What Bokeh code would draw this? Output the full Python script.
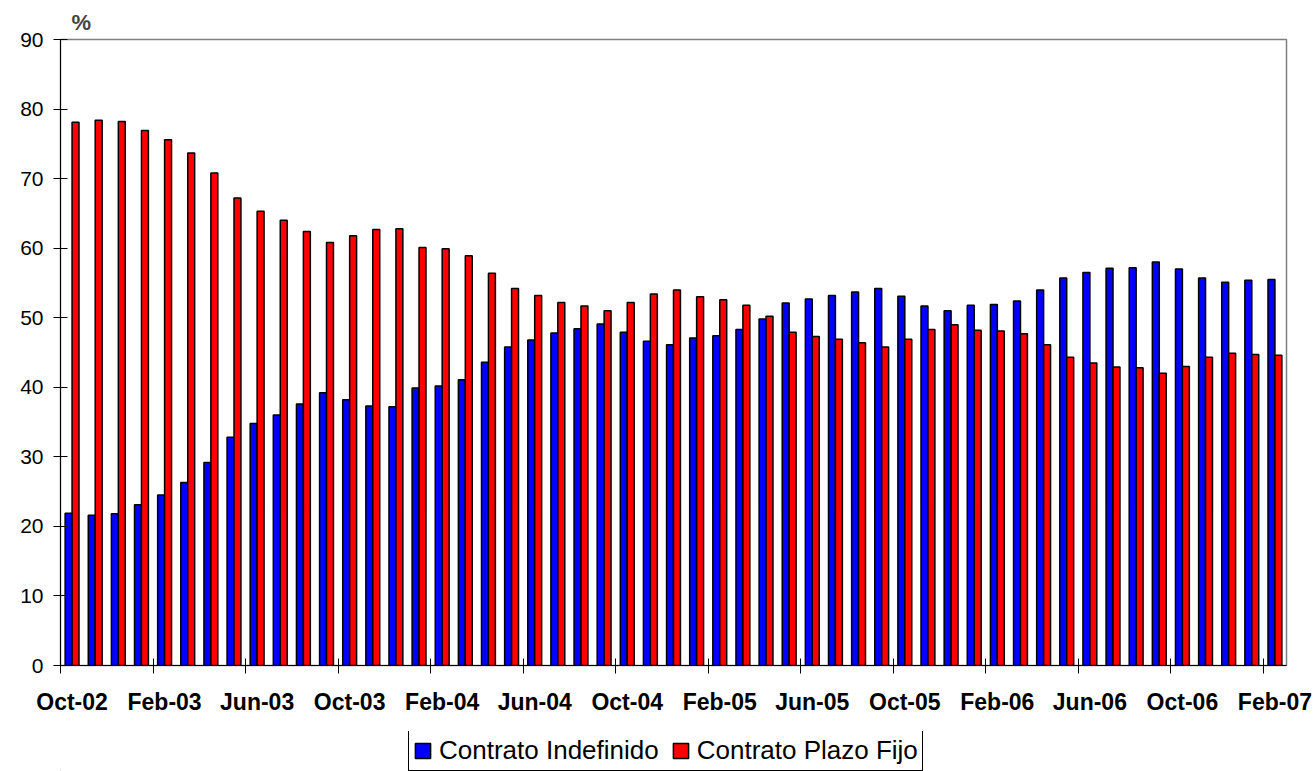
from bokeh.plotting import figure
from bokeh.models import (ColumnDataSource, FixedTicker, LinearAxis, Range1d,
                          Legend, LegendItem)
from bokeh.layouts import column
from bokeh.transform import dodge
from bokeh.embed import file_html
from bokeh.resources import INLINE

months = ["Oct-02", "Nov-02", "Dec-02",
          "Jan-03", "Feb-03", "Mar-03", "Apr-03", "May-03", "Jun-03",
          "Jul-03", "Aug-03", "Sep-03", "Oct-03", "Nov-03", "Dec-03",
          "Jan-04", "Feb-04", "Mar-04", "Apr-04", "May-04", "Jun-04",
          "Jul-04", "Aug-04", "Sep-04", "Oct-04", "Nov-04", "Dec-04",
          "Jan-05", "Feb-05", "Mar-05", "Apr-05", "May-05", "Jun-05",
          "Jul-05", "Aug-05", "Sep-05", "Oct-05", "Nov-05", "Dec-05",
          "Jan-06", "Feb-06", "Mar-06", "Apr-06", "May-06", "Jun-06",
          "Jul-06", "Aug-06", "Sep-06", "Oct-06", "Nov-06", "Dec-06",
          "Jan-07", "Feb-07"]

indefinido = [21.9, 21.6, 21.8, 23.1, 24.5, 26.3, 29.2, 32.8, 34.8, 36.0,
              37.6, 39.2, 38.2, 37.3, 37.2, 39.9, 40.2,
              41.1, 43.6, 45.8, 46.8, 47.8, 48.4, 49.1, 47.9, 46.6, 46.1,
              47.1, 47.4, 48.3, 49.8, 52.1, 52.7, 53.2, 53.7,
              54.2, 53.1, 51.7, 51.0, 51.8, 51.9, 52.4, 54.0, 55.7, 56.5,
              57.1, 57.2, 58.0, 57.0, 55.7, 55.1, 55.4, 55.5]

plazo_fijo = [78.1, 78.4, 78.2, 76.9, 75.6, 73.7, 70.8, 67.2, 65.3, 64.0,
              62.4, 60.8, 61.8, 62.7, 62.8, 60.1, 59.9,
              58.9, 56.4, 54.2, 53.2, 52.2, 51.7, 51.0, 52.2, 53.4, 54.0,
              53.0, 52.6, 51.8, 50.2, 47.9, 47.3, 46.9, 46.4,
              45.8, 46.9, 48.3, 49.0, 48.2, 48.1, 47.7, 46.1, 44.3, 43.5,
              42.9, 42.8, 42.0, 43.0, 44.3, 44.9, 44.7, 44.6]

tick_labels = ["Oct-02", "Feb-03", "Jun-03", "Oct-03", "Feb-04", "Jun-04",
               "Oct-04", "Feb-05", "Jun-05", "Oct-05", "Feb-06", "Jun-06",
               "Oct-06", "Feb-07"]
y_ticks = [0, 10, 20, 30, 40, 50, 60, 70, 80, 90]

series_names = ["Contrato Indefinido", "Contrato Plazo Fijo"]
series_colors = ["#0000FF", "#FF0000"]

n = len(months)
idx = list(range(n))
source = ColumnDataSource(dict(
    month=months,
    pos=[i + 0.5 for i in idx],
    indef=indefinido,
    plazo=plazo_fijo,
))

FONT = "Liberation Sans"

p = figure(width=1315, height=731,
           x_range=Range1d(0, n), y_range=Range1d(0, 90),
           output_backend="svg", toolbar_location=None,
           min_border_left=60, min_border_right=29,
           min_border_top=39, min_border_bottom=66,
           background_fill_color="white", border_fill_color="white")

p.outline_line_color = "#808080"
p.outline_line_width = 1.5
p.xgrid.visible = False
p.ygrid.visible = False

p.title.text = "%"
p.title.text_font = FONT
p.title.text_font_size = "22px"
p.title.text_font_style = "bold"
p.title.align = "left"
p.title.offset = 11
p.title.standoff = 10

bw = 0.3
rb = p.vbar(x=dodge("pos", -0.15, range=p.x_range), top="indef", width=bw,
            source=source, fill_color=series_colors[0],
            line_color="black", line_width=1.5)
rr = p.vbar(x=dodge("pos", 0.15, range=p.x_range), top="plazo", width=bw,
            source=source, fill_color=series_colors[1],
            line_color="black", line_width=1.5)

# y axis
ya = p.yaxis[0]
ya.ticker = FixedTicker(ticks=y_ticks)
ya.major_tick_in = 7
ya.major_tick_out = 7
ya.minor_tick_line_color = None
ya.axis_line_color = "black"
ya.major_tick_line_color = "black"
ya.major_label_text_font = FONT
ya.major_label_text_font_size = "21px"
ya.major_label_text_color = "black"
ya.major_label_standoff = 10

# x axis: tick marks at every 4th month boundary
xa = p.xaxis[0]
xa.ticker = FixedTicker(ticks=[i for i in idx if i % 4 == 0])
xa.major_tick_in = 7
xa.major_tick_out = 8
xa.minor_tick_line_color = None
xa.axis_line_color = "black"
xa.major_tick_line_color = "black"
xa.major_label_text_font_size = "0px"
xa.major_label_text_color = None
xa.major_label_standoff = 0

# x labels centred on their month
label_pos = [i + 0.5 for i in idx if i % 4 == 0]
la = LinearAxis(ticker=FixedTicker(ticks=label_pos),
                major_label_overrides={pp: t for pp, t in zip(label_pos, tick_labels)},
                axis_line_color=None, major_tick_line_color=None,
                minor_tick_line_color=None, major_tick_in=0, major_tick_out=0,
                major_label_text_font=FONT, major_label_text_font_size="23px",
                major_label_text_font_style="bold",
                major_label_text_color="black",
                major_label_standoff=15)
p.add_layout(la, "below")

# legend strip below the chart (its frame is aligned with the chart's frame)
lp = figure(width=1315, height=40, x_range=Range1d(0, 1), y_range=Range1d(0, 1),
            output_backend="svg", toolbar_location=None,
            x_axis_location=None, y_axis_location=None,
            min_border=0, outline_line_color=None,
            background_fill_color="white", border_fill_color="white")
lp.xgrid.visible = False
lp.ygrid.visible = False
# legend-key renderers: one row each, placed well outside the visible range
key_src = ColumnDataSource(dict(x=[-5], bottom=[-3], top=[-2]))
lb = lp.vbar(x="x", bottom="bottom", top="top", width=0.1, source=key_src,
             fill_color=series_colors[0], line_color="black", line_width=1.5)
lr = lp.vbar(x="x", bottom="bottom", top="top", width=0.1, source=key_src,
             fill_color=series_colors[1], line_color="black", line_width=1.5)

legend = Legend(items=[LegendItem(label=series_names[0], renderers=[lb]),
                       LegendItem(label=series_names[1], renderers=[lr])],
                orientation="horizontal", location=(348, 0),
                border_line_color="black", border_line_width=1,
                border_line_alpha=1.0,
                label_text_font=FONT, label_text_font_size="26px",
                label_text_color="black",
                glyph_width=19, glyph_height=19, label_standoff=7,
                spacing=12, padding=4, margin=0,
                background_fill_color="white", background_fill_alpha=1.0)
lp.add_layout(legend, "center")

layout = column(p, lp, spacing=0)
open("out.html", "w").write(file_html(layout, INLINE))
